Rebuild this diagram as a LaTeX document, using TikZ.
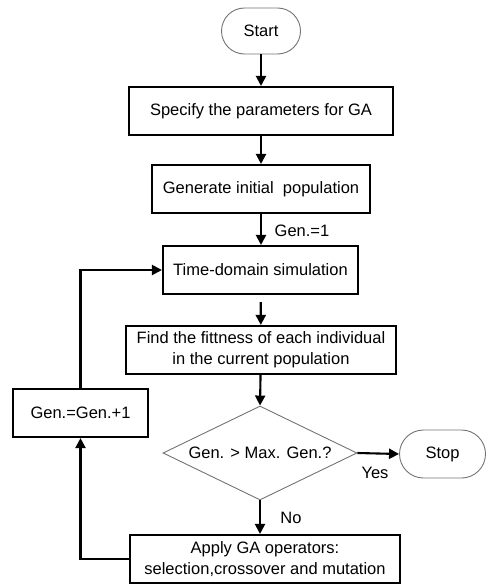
\documentclass[tikz,border=0pt]{standalone}
\usepackage{fontspec}
\setmainfont{Liberation Sans}
\usetikzlibrary{shapes.geometric,arrows.meta}
\begin{document}
\begin{tikzpicture}[x=1pt,y=-1pt,
  font=\fontsize{16.5}{21}\selectfont,
  box/.style={draw=black,line width=2.1pt,minimum height=48pt,inner sep=0pt,align=center},
  term/.style={draw=black!55,line width=0.9pt,minimum height=46pt,rounded corners=23pt,inner sep=0pt},
  decision/.style={draw=black!55,line width=0.9pt,diamond,minimum width=194pt,minimum height=94pt,inner sep=0pt},
  arr/.style={line width=2.1pt,-{Triangle[length=10pt,width=10pt]}},
  lbl/.style={inner sep=0pt}]
\useasboundingbox (0,0) rectangle (486,586);
\node[term,minimum width=79pt] (start) at (261,31) {Start};
\node[box,minimum width=264pt] (spec) at (261,111) {Specify the parameters for GA};
\node[box,minimum width=218pt] (gen) at (261,189) {Generate initial\ \ population};
\node[box,minimum width=195pt] (time) at (260.5,270) {Time-domain simulation};
\node[box,minimum width=270pt] (fit) at (261,350) {Find the fittness of each individual\\in the current population};
\node[decision] (dec) at (260,453) {};
\node[lbl] (dectext) at (dec.center) {Gen. > Max. Gen.?};
\node[term,minimum width=86pt,minimum height=48pt,rounded corners=24pt] (stop) at (442.5,454) {Stop};
\node[box,minimum width=270pt] (apply) at (265,559) {Apply GA operators:\\selection,crossover and mutation};
\node[box,minimum width=135pt] (inc) at (80.5,413) {Gen.=Gen.+1};
\node[lbl] (g1) at (302,231) {Gen.=1};
\node[lbl] (yes) at (375,473) {Yes};
\node[lbl] (no) at (291,518) {No};
\coordinate (corner) at (inc.north |- time.west);
\draw[arr] (start) -- (spec);
\draw[arr] (spec) -- (gen);
\draw[arr] (gen.south) -- (gen.south |- time.north);
\draw[arr,shorten <=7pt] (time) -- (fit);
\draw[arr] (fit) -- (dec.north);
\draw[arr] (dec.east) -- (stop.west);
\draw[arr] (dec.south) -- (dec.south |- apply.north);
\draw[arr] (apply.west) -| (inc.south);
\draw[arr] (inc.north) -- (corner) -- (time.west);
\end{tikzpicture}
\end{document}
